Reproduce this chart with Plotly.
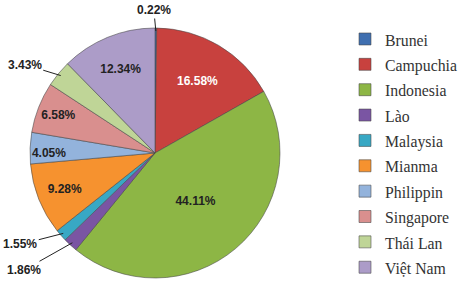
import math
import plotly.graph_objects as go

labels = ["Brunei", "Campuchia", "Indonesia", "Lào", "Malaysia", "Mianma",
          "Philippin", "Singapore", "Thái Lan", "Việt Nam"]
values = [0.22, 16.58, 44.11, 1.86, 1.55, 9.28, 4.05, 6.58, 3.43, 12.34]
colors = ["#3F6FB0", "#C8413E", "#8DB645", "#7A55A3", "#38A8C4", "#F6922F",
          "#93B3DC", "#D98F8E", "#BFD597", "#AC9CC8"]
text_colors = ["#222222", "#FFFFFF", "#222222", "#222222", "#222222", "#222222",
               "#222222", "#222222", "#222222", "#222222"]
outside_labels = ["Brunei", "Lào", "Malaysia", "Thái Lan"]
# text offsets (pixels) of the outside labels from the slice edge
outside_offsets = {"Brunei": (-2, -21), "Thái Lan": (-36, -11),
                   "Malaysia": (-43, 11), "Lào": (-48, 27)}

W, H = 459, 284
cx, cy, R = 155, 153, 125

templates = ["" if l in outside_labels else "%{value:.2f}%" for l in labels]
legend_names = [f"<span style='font-size:15.8px'>{l}</span>" for l in labels]

fig = go.Figure(go.Pie(
    labels=legend_names,
    values=values,
    sort=False,
    direction="clockwise",
    rotation=0,
    marker=dict(colors=colors, line=dict(color="rgba(70,70,70,0.7)", width=0.8)),
    texttemplate=templates,
    textposition="inside",
    insidetextorientation="horizontal",
    insidetextfont=dict(family="Liberation Sans", size=12, color=text_colors, weight="bold"),
    hoverinfo="label+value",
    domain=dict(x=[(cx - R) / W, (cx + R) / W], y=[(H - cy - R) / H, (H - cy + R) / H]),
))

total = sum(values)
cum = 0.0
annotations = []
for l, v in zip(labels, values):
    mid = (cum + v / 2) / total
    cum += v
    if l not in outside_labels:
        continue
    a = 2 * math.pi * mid
    px = cx + (R - 3) * math.sin(a)
    py = cy - (R - 3) * math.cos(a)
    ax, ay = outside_offsets[l]
    annotations.append(dict(
        x=px / W, y=1 - py / H, xref="paper", yref="paper",
        text=f"{v:.2f}%", showarrow=True, arrowhead=0, arrowwidth=1,
        arrowcolor="#222222", ax=ax, ay=ay,
        font=dict(family="Liberation Sans", size=12, color="#222222", weight="bold"),
    ))

fig.update_layout(
    width=W, height=H,
    margin=dict(l=0, r=0, t=0, b=0, autoexpand=False),
    paper_bgcolor="white",
    plot_bgcolor="white",
    annotations=annotations,
    showlegend=True,
    legend=dict(
        x=(385 - 40) / W, xanchor="left", y=0.925, yanchor="top",
        font=dict(family="Liberation Serif", size=17.2, color="#333333"),
        bgcolor="rgba(0,0,0,0)",
    ),
)

fig.write_html("out.html")
